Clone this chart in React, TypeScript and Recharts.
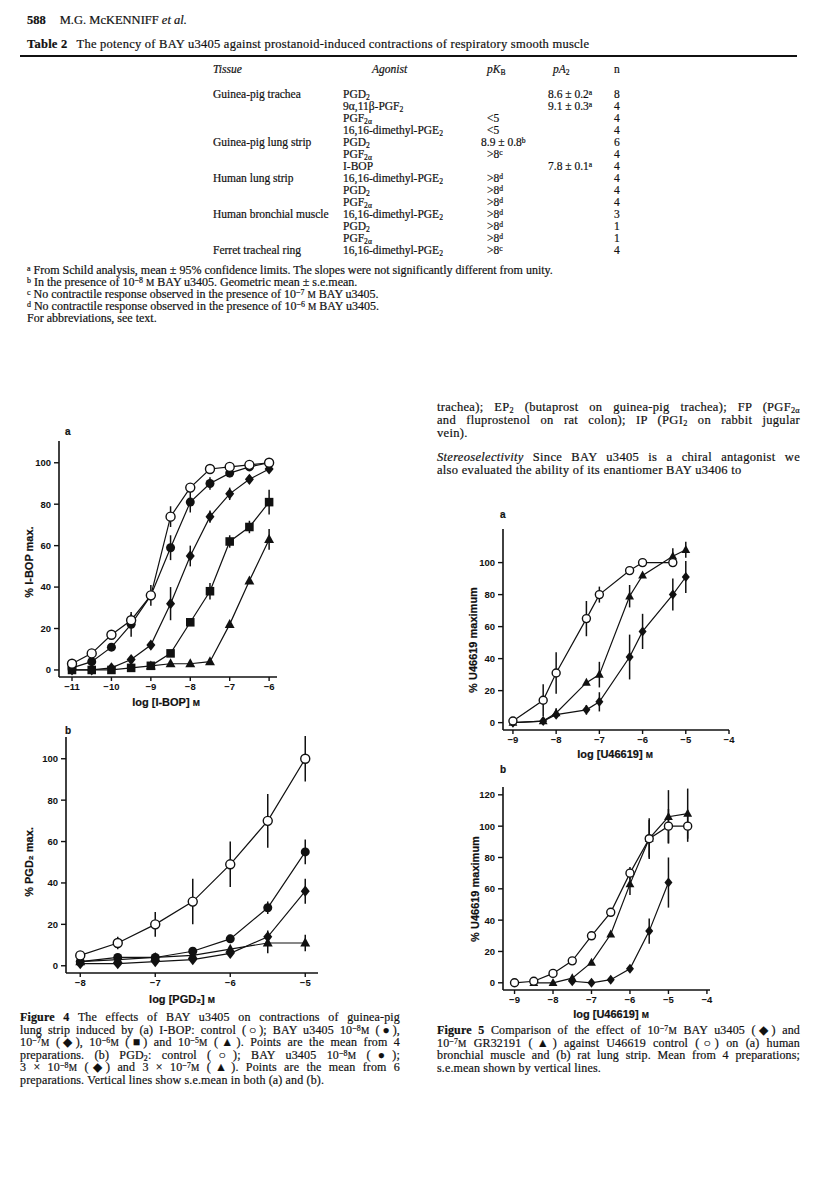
import React from 'react'
import { LineChart, Line, XAxis, YAxis, ErrorBar } from 'recharts'

// ---- Figure 4a: I-BOP ----
const ibopX = [-11, -10.5, -10, -9.5, -9, -8.5, -8, -7.5, -7, -6.5, -6]
const ibopControl = [3, 8, 17, 24, 36, 74, 88, 97, 98, 99, 100]
const ibopControlErr = [0, 0, 0, 3, 0, 5, 2, 1, 1, 1, 1]
const ibopBay8 = [1, 4, 11, 22, 36, 59, 81, 90, 95, 98, 100]
const ibopBay8Err = [0, 0, 0, 6, 5, 6, 5, 3, 2, 1, 1]
const ibopBay7 = [0, 0, 1, 5, 12, 32, 55, 74, 85, 92, 97]
const ibopBay7Err = [0, 0, 0, 0, 0, 8, 5, 3, 3, 2, 2]
const ibopBay6 = [0, 0, 0, 1, 2, 8, 23, 38, 62, 69, 81]
const ibopBay6Err = [0, 0, 0, 0, 0, 0, 0, 4, 3, 3, 6]
const ibopBay5 = [null, null, null, null, 2, 3, 3, 4, 22, 43, 63]
const ibopBay5Err = [0, 0, 0, 0, 0, 0, 0, 0, 0, 0, 5]

// ---- Figure 4b: PGD2 ----
const pgdX = [-8, -7.5, -7, -6.5, -6, -5.5, -5]
const pgdControl = [5, 11, 20, 31, 49, 70, 100]
const pgdControlErr = [1, 3, 6, 11, 11, 13, 11]
const pgdBay8 = [2, 4, 4, 7, 13, 28, 55]
const pgdBay8Err = [1, 1, 1, 1, 2, 3, 6]
const pgdBay3e8 = [1, 1, 2, 3, 6, 14, 36]
const pgdBay3e8Err = [0, 0, 0, 0, 1, 3, 6]
const pgdBay3e7 = [2, 3, 4, 5, 8, 11, 11]
const pgdBay3e7Err = [0, 0, 0, 0, 1, 5, 4]

// ---- Figure 5a: human bronchial muscle ----
const u5aX = [-9, -8.3, -8, -7.3, -7, -6.3, -6, -5.3, -5]
const u5aControl = [1, 14, 31, 65, 80, 95, 100, 100, null]
const u5aControlErr = [0, 10, 13, 11, 5, 2, 0, 0, 0]
const u5aGr = [0, 1, 6, 25, 30, 79, 92, 104, 108]
const u5aGrErr = [0, 0, 3, 0, 8, 7, 0, 5, 5]
const u5aBay = [0, 1, 5, 8, 13, 41, 57, 80, 91]
const u5aBayErr = [0, 0, 0, 3, 6, 14, 11, 10, 10]

// ---- Figure 5b: rat lung strip ----
const u5bX = [-9, -8.5, -8, -7.5, -7, -6.5, -6, -5.5, -5, -4.5]
const u5bControl = [0, 1, 6, 14, 30, 45, 70, 92, 100, 100]
const u5bControlErr = [0, 0, 0, 0, 0, 0, 4, 13, 11, 10]
const u5bGr = [null, 0, 0, 3, 13, 31, 63, 92, 106, 108]
const u5bGrErr = [0, 0, 0, 0, 0, 0, 7, 12, 17, 16]
const u5bBay = [null, null, null, 1, 0, 2, 9, 33, 64, null]
const u5bBayErr = [0, 0, 0, 0, 0, 0, 0, 8, 16, 0]

// ---- Table 2 ----
const tissues = ['Guinea-pig trachea', '', '', '', 'Guinea-pig lung strip', '', '', 'Human lung strip', '', '', 'Human bronchial muscle', '', '', 'Ferret tracheal ring']
const agonists = ['PGD_{2}', '9α,11β-PGF_{2}', 'PGF_{2α}', '16,16-dimethyl-PGE_{2}', 'PGD_{2}', 'PGF_{2α}', 'I-BOP', '16,16-dimethyl-PGE_{2}', 'PGD_{2}', 'PGF_{2α}', '16,16-dimethyl-PGE_{2}', 'PGD_{2}', 'PGF_{2α}', '16,16-dimethyl-PGE_{2}']
const pKB = ['', '', '<5', '<5', '8.9 ± 0.8^{b}', '>8^{c}', '', '>8^{d}', '>8^{d}', '>8^{d}', '>8^{d}', '>8^{d}', '>8^{d}', '>8^{c}']
const pA2 = ['8.6 ± 0.2^{a}', '9.1 ± 0.3^{a}', '', '', '', '', '7.8 ± 0.1^{a}', '', '', '', '', '', '', '']
const nPrep = ['8', '4', '4', '4', '6', '4', '4', '4', '4', '4', '3', '1', '1', '4']
const footnotes = [
  '^{a} From Schild analysis, mean ± 95% confidence limits. The slopes were not significantly different from unity.',
  '^{b} In the presence of 10^{−8} {M} BAY u3405. Geometric mean ± s.e.mean.',
  '^{c} No contractile response observed in the presence of 10^{−7} {M} BAY u3405.',
  '^{d} No contractile response observed in the presence of 10^{−6} {M} BAY u3405.',
  'For abbreviations, see text.',
]

const bodyLines = [
  'trachea); EP_{2} (butaprost on guinea-pig trachea); FP (PGF_{2α}',
  'and fluprostenol on rat colon); IP (PGI_{2} on rabbit jugular',
  'vein).',
]
const bodyLines2 = [
  '*Stereoselectivity*  Since BAY u3405 is a chiral antagonist we',
  'also evaluated the ability of its enantiomer BAY u3406 to',
]
const fig4Caption = [
  '**Figure 4**  The effects of BAY u3405 on contractions of guinea-pig',
  'lung strip induced by (a) I-BOP: control (○); BAY u3405 10^{−8}{M} (●),',
  '10^{−7}{M} (◆), 10^{−6}{M} (■) and 10^{−5}{M} (▲). Points are the mean from 4',
  'preparations. (b) PGD_{2}: control (○); BAY u3405 10^{−8}{M} (●);',
  '3 × 10^{−8}{M} (◆) and 3 × 10^{−7}{M} (▲). Points are the mean from 6',
  'preparations. Vertical lines show s.e.mean in both (a) and (b).',
]
const fig5Caption = [
  '**Figure 5**  Comparison of the effect of 10^{−7}{M} BAY u3405 (◆) and',
  '10^{−7}{M} GR32191 (▲) against U46619 control (○) on (a) human',
  'bronchial muscle and (b) rat lung strip. Mean from 4 preparations;',
  's.e.mean shown by vertical lines.',
]

const INK = '#111'
const SERIF = '"Liberation Serif", "Times New Roman", serif'
const SANS = '"Liberation Sans", Arial, sans-serif'
const subStyle = { fontSize: '0.66em', verticalAlign: '-0.22em', lineHeight: 0 }
const supStyle = { fontSize: '0.66em', verticalAlign: '0.38em', lineHeight: 0 }

// tiny markup: **bold**, *italic*, _{sub}, ^{sup}, {M} small-cap molar
function rich(s: string) {
  const parts = s.split(/(\*\*[^*]+\*\*|\*[^*]+\*|_\{[^}]+\}|\^\{[^}]+\}|\{M\})/)
  return parts.map((p, i) => {
    if (p.startsWith('**')) return <b key={i}>{p.slice(2, -2)}</b>
    if (p.startsWith('*')) return <i key={i}>{p.slice(1, -1)}</i>
    if (p.startsWith('_{')) return <span key={i} style={subStyle}>{p.slice(2, -1)}</span>
    if (p.startsWith('^{')) return <span key={i} style={supStyle}>{p.slice(2, -1)}</span>
    if (p === '{M}') return <span key={i} style={{ fontSize: '0.78em' }}>M</span>
    return <React.Fragment key={i}>{p}</React.Fragment>
  })
}

function zip(xs: number[], ys: (number | null)[], es: number[]) {
  return xs.map((x, i) => ({ x, y: ys[i], e: es[i] })).filter((p) => p.y !== null)
}

function Marker({ cx, cy, shape, r }: any) {
  if (cx == null || cy == null) return null
  if (shape === 'open') return <circle cx={cx} cy={cy} r={r} fill="#fff" stroke={INK} strokeWidth={1.4} />
  if (shape === 'filled') return <circle cx={cx} cy={cy} r={r} fill={INK} />
  if (shape === 'square') return <rect x={cx - r * 0.95} y={cy - r * 0.95} width={r * 1.9} height={r * 1.9} fill={INK} />
  if (shape === 'diamond')
    return <polygon points={`${cx},${cy - r * 1.25} ${cx + r},${cy} ${cx},${cy + r * 1.25} ${cx - r},${cy}`} fill={INK} />
  return <polygon points={`${cx},${cy - r * 1.2} ${cx + r * 1.1},${cy + r * 0.8} ${cx - r * 1.1},${cy + r * 0.8}`} fill={INK} />
}

const fmt = (v: number) => String(v).replace('-', '−')

function Panel({ rect, xDomain, yDomain, xTicks, yTicks, series, r }: any) {
  const [L, T, R, B] = rect
  const ML = 40, MT = 10, MR = 10, XH = 30
  const tick = { fontSize: 9.5, fontWeight: 700, fill: INK, fontFamily: SANS }
  return (
    <div style={{ position: 'absolute', left: L - ML, top: T - MT }}>
      <LineChart width={R - L + ML + MR} height={B - T + MT + XH} margin={{ top: MT, right: MR, bottom: 0, left: 0 }}>
        <XAxis type="number" dataKey="x" domain={xDomain} ticks={xTicks} interval={0} allowDataOverflow height={XH}
          tickSize={4} tickMargin={2} tick={tick} tickFormatter={fmt}
          axisLine={{ stroke: INK, strokeWidth: 1.6 }} tickLine={{ stroke: INK, strokeWidth: 1.4 }} />
        <YAxis type="number" domain={yDomain} ticks={yTicks} interval={0} allowDataOverflow width={ML}
          tickSize={5} tickMargin={3} tick={tick}
          axisLine={{ stroke: INK, strokeWidth: 1.6 }} tickLine={{ stroke: INK, strokeWidth: 1.4 }} />
        {series.map((s: any) => (
          <Line key={s.name} data={zip(s.xs, s.ys, s.es)} dataKey="y" type="linear" stroke={INK} strokeWidth={1.2}
            isAnimationActive={false} activeDot={false}
            dot={(p: any) => <Marker key={`${s.name}-${p.index}`} cx={p.cx} cy={p.cy} shape={s.shape} r={r} />}>
            <ErrorBar dataKey="e" width={0} stroke={INK} strokeWidth={1.5} direction="y" isAnimationActive={false} />
          </Line>
        ))}
      </LineChart>
    </div>
  )
}

function Txt({ x, y, size = 11.5, children, style }: any) {
  return (
    <div style={{ position: 'absolute', left: x, top: y, fontSize: size, lineHeight: 1, whiteSpace: 'nowrap', transform: 'translateY(-50%)', ...style }}>
      {children}
    </div>
  )
}

function Justified({ x, y, width, lines, size, gap, spacing = 0 }: any) {
  return (
    <>
      {lines.map((l: string, i: number) => (
        <div key={i} style={{
          position: 'absolute', left: x, top: y + i * gap, width, fontSize: size, lineHeight: 1, letterSpacing: spacing,
          transform: 'translateY(-50%)', textAlign: 'justify', textAlignLast: i === lines.length - 1 ? 'left' : 'justify',
          whiteSpace: 'normal',
        }}>{rich(l)}</div>
      ))}
    </>
  )
}

function AxisTitle({ x, y, rotate, children }: any) {
  return (
    <div style={{
      position: 'absolute', left: x, top: y, fontFamily: SANS, fontWeight: 700, fontSize: 11, color: INK,
      whiteSpace: 'nowrap', transform: `translate(-50%, -50%)${rotate ? ' rotate(-90deg)' : ''}`,
    }}>{children}</div>
  )
}

const smallM = <span style={{ fontSize: '0.78em' }}>M</span>
const letter = { fontFamily: SANS, fontWeight: 700 }

export default function App() {
  const rowY = (i: number) => 95 + i * 12
  return (
    <div style={{ position: 'absolute', left: 0, top: 0, width: 816, height: 1187, background: '#fff', fontFamily: SERIF, color: INK, overflow: 'hidden', WebkitTextStroke: '0.2px #111' }}>
      {/* running head */}
      <Txt x={27} y={20} size={12.5}><b>588</b><span style={{ marginLeft: 14 }}>M.G. McKENNIFF <i>et al.</i></span></Txt>

      {/* Table 2 */}
      <Txt x={27} y={44} size={12.5} style={{ letterSpacing: 0.25 }}><b>Table 2</b><span style={{ marginLeft: 9 }}>The potency of BAY u3405 against prostanoid-induced contractions of respiratory smooth muscle</span></Txt>
      <div style={{ position: 'absolute', left: 20, top: 55, width: 777, height: 2, background: INK }} />
      <Txt x={213} y={70}><i>Tissue</i></Txt>
      <Txt x={372} y={70}><i>Agonist</i></Txt>
      <Txt x={487} y={70}><i>pK</i><span style={subStyle}>B</span></Txt>
      <Txt x={553} y={70}><i>pA</i><span style={subStyle}>2</span></Txt>
      <Txt x={614} y={70}>n</Txt>
      {tissues.map((t, i) => (
        <React.Fragment key={i}>
          {t && <Txt x={213} y={rowY(i)}>{t}</Txt>}
          <Txt x={343} y={rowY(i)}>{rich(agonists[i])}</Txt>
          {pKB[i] && <Txt x={pKB[i].startsWith('8.9') ? 481 : 487} y={rowY(i)}>{rich(pKB[i])}</Txt>}
          {pA2[i] && <Txt x={548} y={rowY(i)}>{rich(pA2[i])}</Txt>}
          <Txt x={614} y={rowY(i)}>{nPrep[i]}</Txt>
        </React.Fragment>
      ))}
      {footnotes.map((f, i) => (
        <Txt key={i} x={27} y={270 + i * 12} size={12}>{rich(f)}</Txt>
      ))}

      {/* right column body text */}
      <Justified x={437} y={407} width={363} lines={bodyLines} size={12.5} gap={13} spacing={0.3} />
      <Justified x={437} y={457} width={363} lines={bodyLines2} size={12.5} gap={13} spacing={0.3} />

      {/* Figure 4a */}
      <Txt x={65} y={432} size={10} style={letter}>a</Txt>
      <Panel rect={[59, 441, 277, 677]} xDomain={[-11.33, -5.8]} yDomain={[-3.4, 110.5]}
        xTicks={[-11, -10, -9, -8, -7, -6]} yTicks={[0, 20, 40, 60, 80, 100]} r={4.5}
        series={[
          { name: 'bay5', xs: ibopX, ys: ibopBay5, es: ibopBay5Err, shape: 'triangle' },
          { name: 'bay6', xs: ibopX, ys: ibopBay6, es: ibopBay6Err, shape: 'square' },
          { name: 'bay7', xs: ibopX, ys: ibopBay7, es: ibopBay7Err, shape: 'diamond' },
          { name: 'bay8', xs: ibopX, ys: ibopBay8, es: ibopBay8Err, shape: 'filled' },
          { name: 'ctrl', xs: ibopX, ys: ibopControl, es: ibopControlErr, shape: 'open' },
        ]} />
      <AxisTitle x={29} y={562} rotate>% I-BOP max.</AxisTitle>
      <AxisTitle x={166} y={702}>log [I-BOP] {smallM}</AxisTitle>

      {/* Figure 4b */}
      <Txt x={65} y={731} size={10} style={letter}>b</Txt>
      <Panel rect={[66, 737, 318, 973]} xDomain={[-8.19, -4.83]} yDomain={[-3.5, 110.5]}
        xTicks={[-8, -7, -6, -5]} yTicks={[0, 20, 40, 60, 80, 100]} r={4.5}
        series={[
          { name: 'bay3e7', xs: pgdX, ys: pgdBay3e7, es: pgdBay3e7Err, shape: 'triangle' },
          { name: 'bay3e8', xs: pgdX, ys: pgdBay3e8, es: pgdBay3e8Err, shape: 'diamond' },
          { name: 'bay8', xs: pgdX, ys: pgdBay8, es: pgdBay8Err, shape: 'filled' },
          { name: 'ctrl', xs: pgdX, ys: pgdControl, es: pgdControlErr, shape: 'open' },
        ]} />
      <AxisTitle x={29} y={862} rotate>% PGD₂ max.</AxisTitle>
      <AxisTitle x={182} y={999}>log [PGD₂] {smallM}</AxisTitle>

      {/* Figure 5a */}
      <Txt x={500} y={515} size={10} style={letter}>a</Txt>
      <Panel rect={[503, 529, 729, 730]} xDomain={[-9.23, -4]} yDomain={[-4.6, 121]}
        xTicks={[-9, -8, -7, -6, -5, -4]} yTicks={[0, 20, 40, 60, 80, 100]} r={4}
        series={[
          { name: 'bay', xs: u5aX, ys: u5aBay, es: u5aBayErr, shape: 'diamond' },
          { name: 'gr', xs: u5aX, ys: u5aGr, es: u5aGrErr, shape: 'triangle' },
          { name: 'ctrl', xs: u5aX, ys: u5aControl, es: u5aControlErr, shape: 'open' },
        ]} />
      <AxisTitle x={473} y={640} rotate>% U46619 maximum</AxisTitle>
      <AxisTitle x={615} y={754}>log [U46619] {smallM}</AxisTitle>

      {/* Figure 5b */}
      <Txt x={500} y={770} size={10} style={letter}>b</Txt>
      <Panel rect={[503, 787, 710, 990]} xDomain={[-9.3, -3.92]} yDomain={[-4.6, 125]}
        xTicks={[-9, -8, -7, -6, -5, -4]} yTicks={[0, 20, 40, 60, 80, 100, 120]} r={4}
        series={[
          { name: 'bay', xs: u5bX, ys: u5bBay, es: u5bBayErr, shape: 'diamond' },
          { name: 'gr', xs: u5bX, ys: u5bGr, es: u5bGrErr, shape: 'triangle' },
          { name: 'ctrl', xs: u5bX, ys: u5bControl, es: u5bControlErr, shape: 'open' },
        ]} />
      <AxisTitle x={475} y={889} rotate>% U46619 maximum</AxisTitle>
      <AxisTitle x={611} y={1014}>log [U46619] {smallM}</AxisTitle>

      {/* captions */}
      <Justified x={20} y={1017} width={380} lines={fig4Caption} size={12} gap={12.5} spacing={0.15} />
      <Justified x={437} y={1030} width={363} lines={fig5Caption} size={12} gap={12.5} spacing={0.15} />
    </div>
  )
}
